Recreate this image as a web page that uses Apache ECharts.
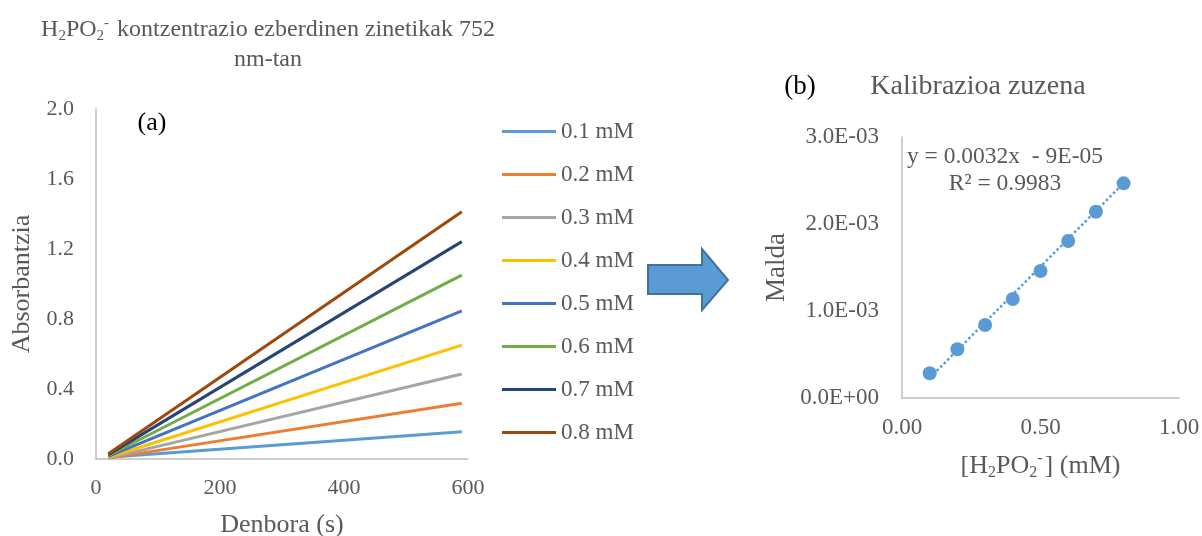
<!DOCTYPE html>
<html>
<head>
<meta charset="utf-8">
<script src="https://cdn.jsdelivr.net/npm/echarts@6/dist/echarts.min.js"></script>
<style>
html,body{margin:0;padding:0;background:#fff;}
#chart{width:1202px;height:536px;}
</style>
</head>
<body>
<div id="chart"></div>
<script>
// ---- Data (a): kinetics ----
var times = [20, 590];
var concLabels = ['0.1 mM','0.2 mM','0.3 mM','0.4 mM','0.5 mM','0.6 mM','0.7 mM','0.8 mM'];
var abs01 = [0.010, 0.156];
var abs02 = [0.005, 0.318];
var abs03 = [0.005, 0.486];
var abs04 = [0.010, 0.651];
var abs05 = [0.015, 0.847];
var abs06 = [0.020, 1.051];
var abs07 = [0.025, 1.242];
var abs08 = [0.030, 1.413];
var lineColors = ['#5B9BD5','#ED7D31','#A5A5A5','#FFC000','#4472C4','#70AD47','#264478','#9E480E'];

// ---- Data (b): calibration ----
var conc = [0.1, 0.2, 0.3, 0.4, 0.5, 0.6, 0.7, 0.8];
var slopes = [0.000284, 0.000560, 0.000839, 0.001138, 0.001460, 0.001805, 0.002140, 0.002467];
var trendX = [0.1, 0.8];
var trendY = [0.00023, 0.00247];
var eqText = 'y = 0.0032x  - 9E-05';
var r2Text = 'R\u00B2 = 0.9983';

var FONT = '"Liberation Serif", "Times New Roman", serif';
var TXT = '#595959';
var AX = '#BFBFBF';

var absSeries = [abs01, abs02, abs03, abs04, abs05, abs06, abs07, abs08];

var series = absSeries.map(function (vals, i) {
  return {
    name: concLabels[i],
    type: 'line',
    xAxisIndex: 0, yAxisIndex: 0,
    data: times.map(function (t, j) { return [t, vals[j]]; }),
    showSymbol: false,
    symbol: 'none',
    lineStyle: { width: 3, color: lineColors[i] },
    itemStyle: { color: lineColors[i] },
    animation: false
  };
});

series.push({
  name: 'trend',
  type: 'line',
  xAxisIndex: 1, yAxisIndex: 1,
  data: trendX.map(function (x, j) { return [x, trendY[j]]; }),
  symbol: 'none',
  lineStyle: { width: 2.5, type: 'dotted', color: '#5B9BD5' },
  z: 2,
  animation: false
});
series.push({
  name: 'Malda',
  type: 'scatter',
  xAxisIndex: 1, yAxisIndex: 1,
  data: conc.map(function (c, j) { return [c, slopes[j]]; }),
  symbolSize: 14,
  itemStyle: { color: '#5B9BD5', opacity: 1 },
  z: 3,
  animation: false
});

function fmtExp(v) {
  if (v === 0) return '0.0E+00';
  var e = Math.floor(Math.log10(Math.abs(v)) + 1e-9);
  var m = v / Math.pow(10, e);
  var es = (e < 0 ? '-' : '+') + (Math.abs(e) < 10 ? '0' : '') + Math.abs(e);
  return m.toFixed(1) + 'E' + es;
}

var tickStyleL = { color: TXT, fontFamily: FONT, fontSize: 22 };
var tickStyleR = { color: TXT, fontFamily: FONT, fontSize: 23 };
var nameStyle = { color: TXT, fontFamily: FONT, fontSize: 26 };
var axisLine = { show: true, lineStyle: { color: AX, width: 1.5 } };

var option = {
  animation: false,
  backgroundColor: '#fff',
  grid: [
    { left: 96, top: 109, width: 372, height: 350, containLabel: false, outerBoundsMode: 'none' },
    { left: 902, top: 137, width: 277, height: 261, containLabel: false, outerBoundsMode: 'none' }
  ],
  xAxis: [
    { gridIndex: 0, type: 'value', min: 0, max: 600, interval: 200,
      axisLine: axisLine, axisTick: { show: false }, splitLine: { show: false },
      axisLabel: Object.assign({ margin: 18 }, tickStyleL),
      name: 'Denbora (s)', nameLocation: 'middle', nameGap: 53, nameTextStyle: nameStyle },
    { gridIndex: 1, type: 'value', min: 0, max: 1, interval: 0.5,
      axisLine: axisLine, axisTick: { show: false }, splitLine: { show: false },
      axisLabel: Object.assign({ margin: 18, formatter: function (v) { return v.toFixed(2); } }, tickStyleR),
      name: '{n|[H}{s|2}{n|PO}{s|2}{p|-}{n|] (mM)}', nameLocation: 'middle', nameGap: 51,
      nameTextStyle: Object.assign({}, nameStyle, {
        rich: {
          n: { fontFamily: FONT, fontSize: 26, color: TXT, lineHeight: 30, verticalAlign: 'bottom' },
          s: { fontFamily: FONT, fontSize: 16, color: TXT, lineHeight: 16, verticalAlign: 'bottom', padding: [0, 0, -2, 0] },
          p: { fontFamily: FONT, fontSize: 16, color: TXT, lineHeight: 16, verticalAlign: 'top', padding: [2, 2, 0, 0] }
        }
      }) }
  ],
  yAxis: [
    { gridIndex: 0, type: 'value', min: 0, max: 2.0, interval: 0.4,
      axisLine: axisLine, axisTick: { show: false }, splitLine: { show: false },
      axisLabel: Object.assign({ margin: 22, formatter: function (v) { return v.toFixed(1); } }, tickStyleL),
      name: 'Absorbantzia', nameLocation: 'middle', nameGap: 61, nameRotate: 90, nameTextStyle: nameStyle },
    { gridIndex: 1, type: 'value', min: 0, max: 0.003, interval: 0.001,
      axisLine: axisLine, axisTick: { show: false }, splitLine: { show: false },
      axisLabel: Object.assign({ margin: 23, formatter: fmtExp }, tickStyleR),
      name: 'Malda', nameLocation: 'middle', nameGap: 112, nameRotate: 90,
      nameTextStyle: Object.assign({}, nameStyle, { fontSize: 27 }) }
  ],
  legend: {
    data: concLabels,
    orient: 'vertical',
    left: 502, top: 120,
    padding: 0,
    icon: 'rect',
    itemWidth: 54, itemHeight: 3,
    itemGap: 20,
    textStyle: { color: TXT, fontFamily: FONT, fontSize: 23, lineHeight: 21 }
  },
  graphic: [
    { type: 'text', x: 268, y: 28, style: {
        text: '{n|H}{s|2}{n|PO}{s|2}{p|-}{n| kontzentrazio ezberdinen zinetikak 752}',
        textAlign: 'center', textVerticalAlign: 'middle',
        rich: {
          n: { fontFamily: FONT, fontSize: 24, fill: TXT, lineHeight: 28, verticalAlign: 'bottom' },
          s: { fontFamily: FONT, fontSize: 15, fill: TXT, lineHeight: 15, verticalAlign: 'bottom', padding: [0, 0, -2, 0] },
          p: { fontFamily: FONT, fontSize: 15, fill: TXT, lineHeight: 15, verticalAlign: 'top', padding: [2, 2, 0, 0] }
        } } },
    { type: 'text', x: 268, y: 60, style: { text: 'nm-tan', textAlign: 'center', textVerticalAlign: 'middle',
        font: '24px ' + FONT, fill: TXT } },
    { type: 'text', x: 152, y: 123, style: { text: '(a)', textAlign: 'center', textVerticalAlign: 'middle',
        font: '26px ' + FONT, fill: '#000' } },
    { type: 'text', x: 800, y: 87, style: { text: '(b)', textAlign: 'center', textVerticalAlign: 'middle',
        font: '27px ' + FONT, fill: '#000' } },
    { type: 'text', x: 978, y: 87, style: { text: 'Kalibrazioa zuzena', textAlign: 'center', textVerticalAlign: 'middle',
        font: '28px ' + FONT, fill: TXT } },
    { type: 'text', x: 1005, y: 157, style: { text: eqText, textAlign: 'center', textVerticalAlign: 'middle',
        font: '23.5px ' + FONT, fill: TXT } },
    { type: 'text', x: 1005, y: 184, style: { text: r2Text, textAlign: 'center', textVerticalAlign: 'middle',
        font: '23.5px ' + FONT, fill: TXT } },
    { type: 'polygon', shape: { points: [[648,265],[702,265],[702,249],[728,280],[702,310],[702,294],[648,294]] },
      style: { fill: '#5B9BD5', stroke: '#41719C', lineWidth: 2 } }
  ],
  series: series
};

var chart = echarts.init(document.getElementById('chart'), null, { renderer: 'canvas' });
chart.setOption(option);
</script>
</body>
</html>
